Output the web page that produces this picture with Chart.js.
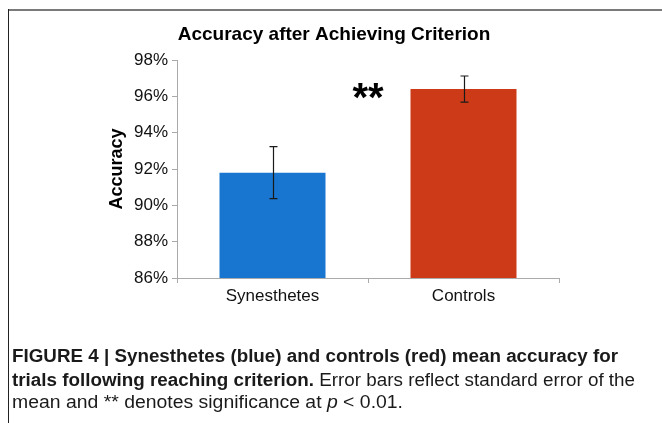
<!DOCTYPE html>
<html><head><meta charset="utf-8">
<script src="https://cdn.jsdelivr.net/npm/chart.js@4.4.0/dist/chart.umd.min.js"></script>
<style>
html,body{margin:0;padding:0;background:#fff;width:662px;height:423px;overflow:hidden;}
#frameTop{position:absolute;left:8px;top:9px;width:654px;height:2px;background:#7a7a7a;}
#frameLeft{position:absolute;left:8px;top:9px;width:1px;height:414px;background:#222;}
#chart{position:absolute;left:0;top:0;}
.cap{position:absolute;left:12px;font-family:"Liberation Sans Narrow","Liberation Sans",Arial,sans-serif;font-size:17.5px;line-height:23px;white-space:nowrap;color:#1a1a1a;transform-origin:0 50%;}
.cap b{font-weight:bold;}
</style></head><body>
<canvas id="chart" width="662" height="423"></canvas>
<div id="frameTop"></div><div id="frameLeft"></div>
<div class="cap" id="c1" style="top:345.3px"><b>FIGURE 4 | Synesthetes (blue) and controls (red) mean accuracy for</b></div>
<div class="cap" id="c2" style="top:368.8px"><b>trials following reaching criterion.</b> Error bars reflect standard error of the</div>
<div class="cap" id="c3" style="top:390.8px">mean and ** denotes significance at <i>p</i> &lt; 0.01.</div>
<script>
// ---- data ----
const categories = ['Synesthetes', 'Controls'];
const meanAccuracy = [91.8, 96.4];
const standardError = [1.43, 0.72];
const barColors = ['#1976d0', '#cc3a17'];
const yTickValues = [86, 88, 90, 92, 94, 96, 98];
const chartTitle = 'Accuracy after Achieving Criterion';
const yAxisTitle = 'Accuracy';
const sigLabel = '**';
const sigLevel = 95.2;

const FONT = '"Liberation Sans", Arial, Helvetica, sans-serif';

const errorBars = {
  id: 'errorBars',
  afterDatasetsDraw(chart) {
    const ctx = chart.ctx, y = chart.scales.y;
    const meta = chart.getDatasetMeta(0);
    ctx.save();
    ctx.strokeStyle = '#1a1a1a';
    ctx.lineWidth = 1.2;
    meta.data.forEach((bar, i) => {
      const x = Math.round(bar.x) + 0.5;
      const yt = y.getPixelForValue(meanAccuracy[i] + standardError[i]);
      const yb = y.getPixelForValue(meanAccuracy[i] - standardError[i]);
      ctx.beginPath();
      ctx.moveTo(x, yt); ctx.lineTo(x, yb);
      ctx.moveTo(x - 4, yt); ctx.lineTo(x + 4, yt);
      ctx.moveTo(x - 4, yb); ctx.lineTo(x + 4, yb);
      ctx.stroke();
    });
    // significance stars between the two bars
    const xs = (meta.data[0].x + meta.data[1].x) / 2;
    ctx.fillStyle = '#000';
    ctx.font = 'bold 40px ' + FONT;
    ctx.textAlign = 'center';
    ctx.textBaseline = 'alphabetic';
    ctx.fillText(sigLabel, xs, y.getPixelForValue(sigLevel));
    // chart title
    ctx.font = 'bold 19px ' + FONT;
    ctx.textBaseline = 'middle';
    ctx.fillText(chartTitle, 334, 35);
    ctx.restore();
  }
};

new Chart(document.getElementById('chart'), {
  type: 'bar',
  data: {
    labels: categories,
    datasets: [{
      data: meanAccuracy,
      backgroundColor: barColors,
      borderWidth: 0,
      barPercentage: 0.555,
      categoryPercentage: 1.0
    }]
  },
  options: {
    responsive: false,
    animation: false,
    devicePixelRatio: 1,
    layout: { padding: { left: 100, right: 103, top: 60, bottom: 115 } },
    plugins: { legend: { display: false }, tooltip: { enabled: false }, title: { display: false } },
    scales: {
      x: {
        ticks: { font: { family: FONT, size: 17 }, color: '#111', padding: 3 },
        grid: { drawOnChartArea: false, tickLength: 5, color: '#aaa', offset: true },
        border: { color: '#aaa' },
        afterFit: s => { s.height = 30; }
      },
      y: {
        min: 86, max: 98,
        afterBuildTicks: s => { s.ticks = yTickValues.map(v => ({ value: v })); },
        ticks: { font: { family: FONT, size: 17 }, color: '#111', padding: 4, callback: v => v + '%' },
        grid: { drawOnChartArea: false, tickLength: 5, color: '#aaa' },
        border: { color: '#aaa' },
        title: { display: true, text: yAxisTitle, color: '#000', font: { family: FONT, size: 18, weight: 'bold' }, padding: { top: 6, bottom: 0 } },
        afterFit: s => { s.width = 77; }
      }
    }
  },
  plugins: [errorBars]
});

// fit caption lines to reference widths
const capTargets = { c1: 606, c2: 623, c3: 391 };
Object.keys(capTargets).forEach(id => {
  const el = document.getElementById(id);
  const w = el.getBoundingClientRect().width;
  if (w > 0) el.style.transform = 'scaleX(' + (capTargets[id] / w) + ')';
});
</script>
</body></html>
